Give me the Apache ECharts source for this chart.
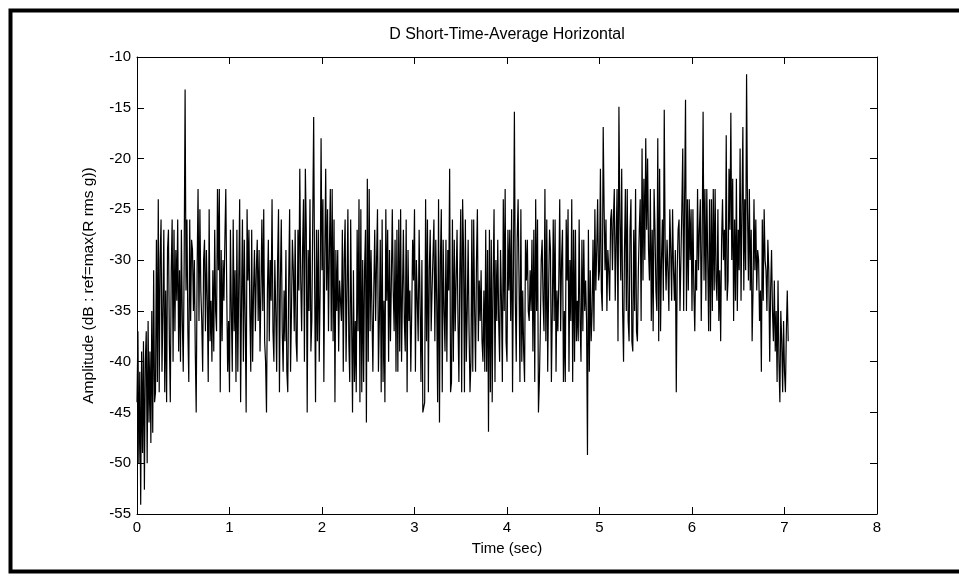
<!DOCTYPE html>
<html>
<head>
<meta charset="utf-8">
<script src="https://cdn.jsdelivr.net/npm/echarts@6/dist/echarts.min.js"></script>
<style>
html,body{margin:0;padding:0;background:#fff;}
#chart{width:959px;height:578px;}
</style>
</head>
<body>
<div id="chart"></div>
<script>
// Sample spacing (seconds)
const dt = 0.01;
// Amplitude values (dB), one array per second of time
const sec0 = [-44,-37,-50,-41,-54.1,-39,-49,-38,-52.6,-40, -37,-50,-36,-46,-39,-48,-35,-47,-31,-44,
  -43,-28,-42,-24,-43,-30,-26,-41,-35,-27, -43,-33,-44,-29,-27,-38,-44,-31,-26,-40,
  -27,-37,-29,-34,-26,-39,-31,-40,-27,-36, -41,-30,-13.2,-33,-26,-37,-42,-26,-36,-28,
  -29,-35,-30,-39,-45,-31,-23,-36,-25,-33, -36,-41,-30,-28,-37,-29,-34,-42,-25,-38,
  -34,-40,-31,-39,-27,-35,-37,-23,-31,-23, -43,-29,-38,-30,-34,-28,-23,-33,-41,-36];
const sec1 = [-43,-27,-35,-41,-26,-37,-31,-42,-27,-41, -32,-24,-44,-34,-26,-40,-28,-36,-45,-25,
  -32,-27,-35,-41,-27,-40,-33,-29,-37,-31, -28,-36,-29,-39,-33,-26,-35,-25,-38,-40,
  -45,-33,-28,-38,-30,-34,-24,-37,-40,-30, -35,-41,-30,-25,-43,-32,-26,-37,-41,-33,
  -38,-29,-41,-43,-32,-25,-41,-35,-28,-31, -37,-27,-38,-40,-27,-33,-21,-32,-37,-29,
  -24,-40,-21,-27,-45,-29,-35,-24,-39,-36, -36,-15.9,-32,-44,-27,-38,-27,-40,-33,-18];
const sec2 = [-31,-24,-42,-30,-21,-33,-25,-37,-29,-23, -37,-23,-38,-26,-44,-29,-35,-29,-39,-32,
  -32,-36,-27,-41,-30,-26,-40,-33,-25,-38, -42,-26,-36,-45,-31,-42,-36,-43,-27,-37,
  -24,-44,-25,-43,-30,-42,-31,-27,-46,-22, -40,-23,-37,-29,-35,-41,-33,-27,-36,-30,
  -25,-41,-36,-28,-43,-26,-42,-34,-44,-25, -34,-27,-40,-29,-38,-32,-25,-33,-37,-28,
  -41,-27,-41,-26,-39,-25,-40,-33,-27,-36, -39,-26,-43,-29,-36,-33,-41,-35,-28,-32];
const sec3 = [-25,-41,-30,-34,-38,-27,-34,-42,-30,-45, -45,-44,-24,-38,-26,-43,-31,-27,-37,-33,
  -33,-26,-38,-28,-34,-44,-24,-46,-30,-25, -43,-28,-35,-39,-28,-40,-29,-33,-21,-43,
  -42,-26,-40,-28,-37,-32,-27,-36,-42,-31, -25,-43,-24,-29,-43,-26,-40,-35,-28,-37,
  -43,-40,-26,-41,-26,-35,-41,-30,-25,-38, -32,-36,-31,-38,-40,-33,-41,-27,-41,-29,
  -46.9,-27,-43,-28,-44,-32,-25,-42,-30,-36, -28,-36,-40,-29,-34,-42,-24,-35,-23,-38];
const sec4 = [-40,-27,-33,-27,-36,-25,-43,-30,-15.4,-34, -40,-28,-24,-32,-42,-25,-40,-33,-39,-42,
  -28,-32,-28,-35,-36,-31,-35,-28,-39,-27, -42,-24,-35,-26,-45,-42,-37,-30,-28,-34,
  -37,-23,-38,-26,-41,-33,-27,-29,-42,-35, -26,-36,-26,-41,-33,-37,-32,-24,-37,-30,
  -27,-42,-35,-42,-26,-32,-25,-41,-30,-36, -24,-42,-27,-40,-27,-38,-34,-38,-26,-36,
  -40,-28,-37,-28,-35,-32,-36,-49.2,-27,-41, -31,-38,-35,-28,-37,-25,-33,-29,-24,-32];
const sec5 = [-31,-21,-33,-35,-16.9,-25,-31,-26,-35,-29, -31,-34,-26,-25,-31,-26,-23,-34,-28,-23,
  -38,-14.9,-26,-32,-21,-35,-40,-29,-23,-35, -23,-36,-38,-27,-24,-38,-39,-27,-35,-23,
  -37,-38,-31,-27,-24,-36,-19,-32,-22,-30, -18,-27,-20,-29,-32,-23,-36,-27,-37,-23,
  -27,-33,-35,-18,-38,-21,-37,-30,-26,-34, -15.2,-29,-33,-28,-31,-35,-25,-29,-34,-25,
  -31,-34,-29,-43,-31,-27,-26,-35,-30,-25, -19,-35,-24,-14.2,-35,-24,-33,-24,-30,-25];
const sec6 = [-35,-25,-33,-37,-30,-33,-23,-31,-27,-24, -36,-28,-15.4,-32,-23,-34,-23,-30,-37,-24,
  -37,-24,-35,-23,-33,-23,-32,-34,-25,-36, -31,-38,-28,-24,-30,-27,-33,-17.7,-34,-32,
  -21,-27,-15.5,-30,-22,-36,-26,-34,-22,-35, -27,-31,-19,-34,-25,-16.9,-33,-24,-31,-11.7,
  -25,-32,-23,-33,-27,-38,-33,-24,-31,-26, -33,-29,-30,-36,-33,-41,-26,-34,-25,-30,
  -31,-35,-28,-31,-40,-33,-29,-35,-38,-32, -39,-35,-42,-32,-40,-44,-35,-38,-43,-36];
const sec7 = [-41,-43,-37,-33,-38];

const xTicks = [0,1,2,3,4,5,6,7,8];
const yTicks = [-55,-50,-45,-40,-35,-30,-25,-20,-15,-10];

const titleText = 'D Short-Time-Average Horizontal';
const xName = 'Time (sec)';
const yName = 'Amplitude (dB : ref=max(R rms g))';

const values = [].concat(sec0, sec1, sec2, sec3, sec4, sec5, sec6, sec7);
const seriesData = values.map((v, i) => [+(i * dt).toFixed(2), v]);

const FONT = '"Liberation Sans", Arial, sans-serif';
const FS = 15;

const axisCommon = {
  axisLine: {show: true, onZero: false, lineStyle: {color: '#000', width: 1}},
  axisTick: {show: true, inside: true, length: 7, lineStyle: {color: '#000', width: 1}},
  splitLine: {show: false}
};

const chart = echarts.init(document.getElementById('chart'), null, {renderer: 'canvas'});
chart.setOption({
  animation: false,
  backgroundColor: '#fff',
  grid: {left: 137, top: 57, width: 740, height: 457, containLabel: false},
  graphic: [
    {type: 'rect', shape: {x: 10.5, y: 10.5, width: 1000, height: 561}, style: {fill: 'none', stroke: '#000', lineWidth: 4}, silent: true},
    {type: 'text', x: 507, y: 35, style: {text: titleText, font: '16px ' + FONT, fill: '#000', align: 'center', verticalAlign: 'middle'}}
  ],
  xAxis: [
    Object.assign({type: 'value', position: 'bottom', min: xTicks[0], max: xTicks[xTicks.length - 1], interval: 1,
      axisLabel: {show: true, color: '#000', fontSize: FS, fontFamily: FONT, margin: 6},
      name: xName, nameLocation: 'middle', nameGap: 27,
      nameTextStyle: {color: '#000', fontSize: FS, fontFamily: FONT}}, axisCommon),
    Object.assign({type: 'value', position: 'top', min: xTicks[0], max: xTicks[xTicks.length - 1], interval: 1,
      axisLabel: {show: false}}, axisCommon)
  ],
  yAxis: [
    Object.assign({type: 'value', position: 'left', min: yTicks[0], max: yTicks[yTicks.length - 1], interval: 5,
      axisLabel: {show: true, color: '#000', fontSize: FS, fontFamily: FONT, margin: 6},
      name: yName, nameLocation: 'middle', nameGap: 40, nameRotate: 90,
      nameTextStyle: {color: '#000', fontSize: 15.5, fontFamily: FONT}}, axisCommon),
    Object.assign({type: 'value', position: 'right', min: yTicks[0], max: yTicks[yTicks.length - 1], interval: 5,
      axisLabel: {show: false}}, axisCommon)
  ],
  series: [{
    type: 'line',
    data: seriesData,
    xAxisIndex: 0,
    yAxisIndex: 0,
    showSymbol: false,
    symbol: 'none',
    sampling: null,
    lineStyle: {color: '#000', width: 1.2},
    emphasis: {disabled: true},
    silent: true
  }]
});
</script>
</body>
</html>
